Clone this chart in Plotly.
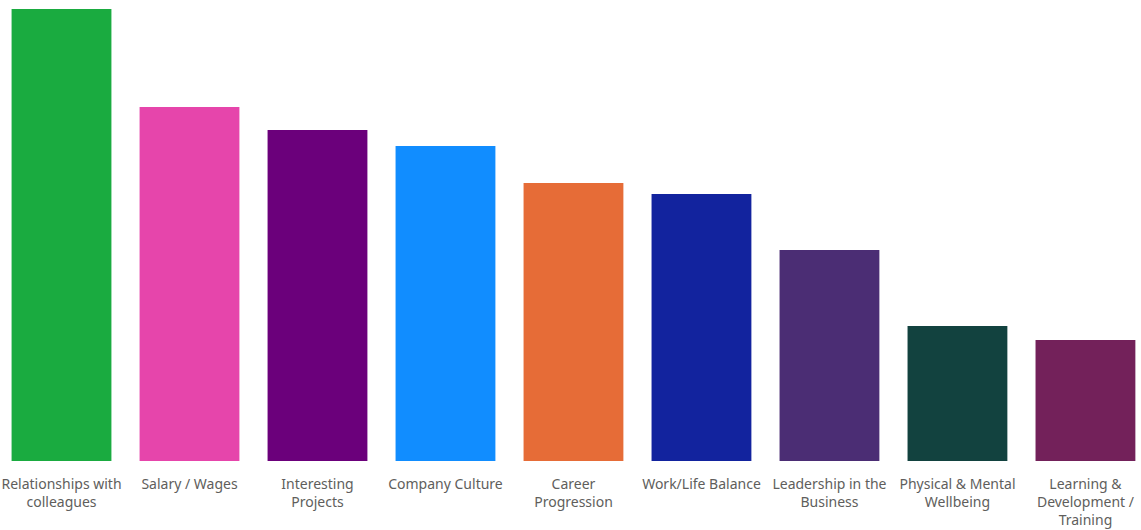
import plotly.graph_objects as go

categories = [
    "Relationships with<br>colleagues",
    "Salary / Wages",
    "Interesting<br>Projects",
    "Company Culture",
    "Career<br>Progression",
    "Work/Life Balance",
    "Leadership in the<br>Business",
    "Physical & Mental<br>Wellbeing",
    "Learning &<br>Development /<br>Training",
]
values = [45.2, 35.4, 33.1, 31.5, 27.8, 26.7, 21.1, 13.5, 12.1]
colors = [
    "#1AAB40", "#E645AB", "#6B007B", "#118DFF", "#E66C37",
    "#12239E", "#4B2D74", "#12423F", "#73215A",
]

fig = go.Figure(
    go.Bar(
        x=list(range(len(categories))),
        y=values,
        marker=dict(color=colors, line=dict(width=0)),
        width=0.78,
    )
)

fig.update_layout(
    width=1141,
    height=530,
    margin=dict(l=0, r=0, t=9, b=69),
    paper_bgcolor="white",
    plot_bgcolor="white",
    showlegend=False,
    font=dict(family="Noto Sans, Open Sans, sans-serif", color="#605E5C", size=14),
    xaxis=dict(
        tickmode="array",
        tickvals=list(range(len(categories))),
        ticktext=categories,
        range=[-0.4805, 8.434],
        showgrid=False,
        zeroline=False,
        showline=False,
        ticks="",
        ticklabelstandoff=13,
        tickfont=dict(size=14, color="#605E5C"),
    ),
    yaxis=dict(
        range=[0, max(values)],
        visible=False,
        showgrid=False,
        zeroline=False,
    ),
)

fig.write_html("out.html")
